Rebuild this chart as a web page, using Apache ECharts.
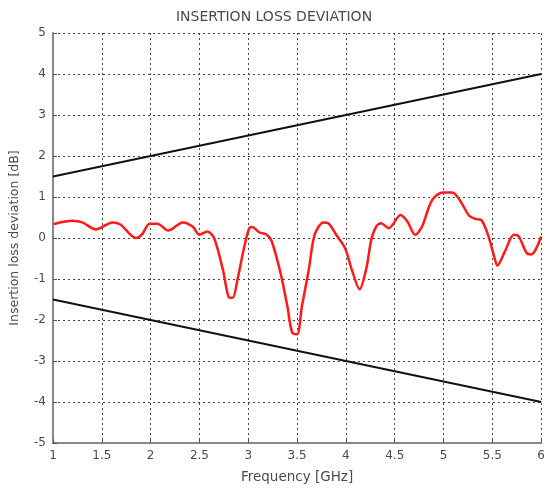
<!DOCTYPE html>
<html><head><meta charset="utf-8">
<script src="https://cdn.jsdelivr.net/npm/echarts@6/dist/echarts.min.js"></script>
<style>html,body{margin:0;padding:0;background:#fff}#c{width:548px;height:489px}</style>
</head><body><div id="c"></div>
<script>
const title = 'INSERTION LOSS DEVIATION';
const xName = 'Frequency [GHz]';
const yName = 'Insertion loss deviation [dB]';
const freq = [1.01,1.20,1.30,1.44,1.61,1.69,1.85,1.91,1.99,2.07,2.18,2.33,2.43,2.50,2.58,2.65,2.74,2.81,2.84,2.89,2.96,3.01,3.04,3.11,3.19,3.24,3.33,3.40,3.45,3.50,3.55,3.62,3.68,3.77,3.82,3.90,3.99,4.06,4.14,4.21,4.26,4.31,4.36,4.44,4.56,4.63,4.71,4.78,4.88,4.99,5.09,5.17,5.26,5.32,5.39,5.46,5.53,5.55,5.63,5.72,5.77,5.85,5.90,6.0];
const dev  = [0.34,0.42,0.38,0.21,0.38,0.33,0.0,0.08,0.35,0.35,0.18,0.38,0.28,0.08,0.16,0.0,-0.77,-1.46,-1.46,-1.01,-0.2,0.24,0.27,0.14,0.08,-0.08,-0.85,-1.66,-2.31,-2.35,-1.66,-0.77,0.08,0.38,0.36,0.08,-0.24,-0.77,-1.25,-0.73,-0.04,0.28,0.36,0.24,0.56,0.40,0.08,0.28,0.91,1.11,1.11,0.91,0.55,0.47,0.43,0.04,-0.55,-0.67,-0.32,0.08,0.04,-0.36,-0.40,0.04];
const limFreq = [1, 6];
const upperLim = [1.5, 4];
const lowerLim = [-1.5, -4];

const chart = echarts.init(document.getElementById('c'), null, {renderer:'canvas'});
const txt = '#4a4a4a';
const font = 'DejaVu Sans, sans-serif';
chart.setOption({
  animation:false,
  title:{text:title,left:'center',top:5,textStyle:{fontSize:14,fontWeight:'normal',color:txt,fontFamily:font}},
  grid:{left:52,right:3,top:33,bottom:44,containLabel:false},
  xAxis:{type:'value',min:1,max:6,interval:0.5,name:xName,nameLocation:'middle',nameGap:27,
    nameTextStyle:{fontSize:13.5,color:txt,fontFamily:font},
    axisLine:{show:true,onZero:false,lineStyle:{color:'#888',width:2}},
    axisTick:{show:true,inside:true,length:4,lineStyle:{color:'#555'}},
    axisLabel:{fontSize:12,color:txt,fontFamily:font,margin:7},
    splitLine:{show:true,lineStyle:{type:[2,3],color:'#444',width:1}}},
  yAxis:{type:'value',min:-5,max:5,interval:1,name:yName,nameLocation:'middle',nameGap:32,
    nameTextStyle:{fontSize:12.5,color:txt,fontFamily:font},
    axisLine:{show:true,onZero:false,lineStyle:{color:'#888',width:2}},
    axisTick:{show:true,inside:true,length:4,lineStyle:{color:'#555'}},
    axisLabel:{fontSize:12,color:txt,fontFamily:font,margin:7},
    splitLine:{show:true,lineStyle:{type:[2,3],color:'#444',width:1}}},
  series:[
    {type:'line',data:freq.map((f,i)=>[f,dev[i]]),smooth:0.3,symbol:'none',lineStyle:{color:'#ff1a1a',width:2.5}},
    {type:'line',data:limFreq.map((f,i)=>[f,upperLim[i]]),symbol:'none',lineStyle:{color:'#111',width:2}},
    {type:'line',data:limFreq.map((f,i)=>[f,lowerLim[i]]),symbol:'none',lineStyle:{color:'#111',width:2}}
  ]
});
</script></body></html>
